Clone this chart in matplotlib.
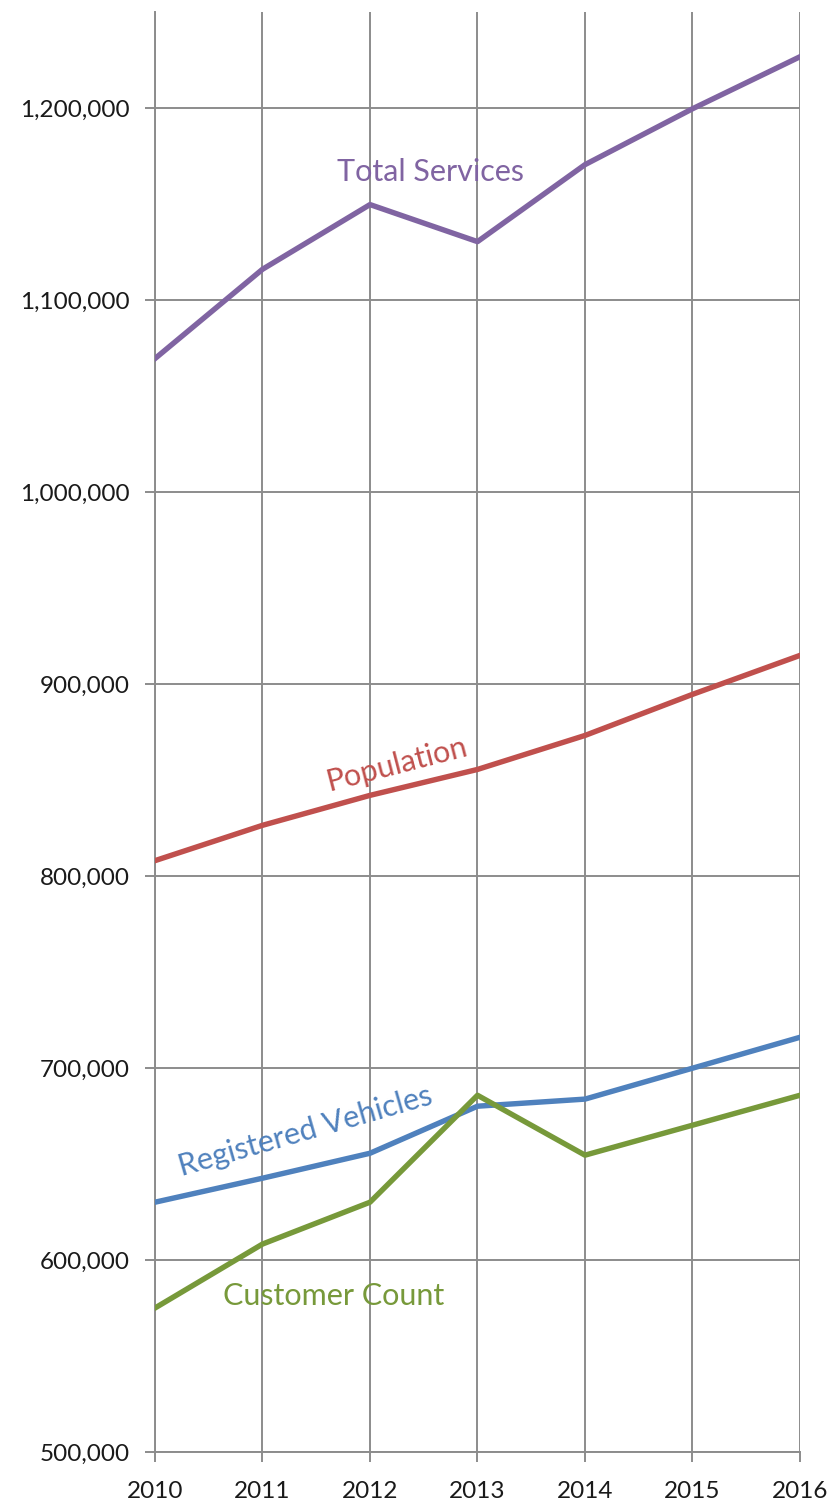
import matplotlib.pyplot as plt
import numpy as np

plt.rcParams['font.family'] = ['Lato', 'DejaVu Sans']

# ---- data ----
years = [2010, 2011, 2012, 2013, 2014, 2015, 2016]
total_services = [1069500, 1116000, 1149700, 1130400, 1170500, 1199600, 1226700]
population = [808000, 826400, 842000, 855500, 873200, 894600, 914900]
registered_vehicles = [630100, 642600, 655600, 680100, 683800, 699900, 716000]
customer_count = [575000, 608300, 630100, 685800, 654600, 670200, 685800]

y_ticks = [500000, 600000, 700000, 800000, 900000, 1000000, 1100000, 1200000]

PURPLE = '#8064A2'
RED = '#C0504D'
BLUE = '#4F81BD'
GREEN = '#77993A'
GRID = '#8c8c8c'

fig = plt.figure(figsize=(8.32, 15.05), dpi=100)
ax = fig.add_axes([155 / 832, 1 - 1452 / 1505, 645 / 832, 1440 / 1505])

lw = 3.9
ax.plot(years, total_services, color=PURPLE, lw=lw, solid_joinstyle='round', zorder=3)
ax.plot(years, population, color=RED, lw=lw, solid_joinstyle='round', zorder=3)
ax.plot(years, registered_vehicles, color=BLUE, lw=lw, solid_joinstyle='round', zorder=3)
ax.plot(years, customer_count, color=GREEN, lw=lw, solid_joinstyle='round', zorder=4)

ax.set_xlim(2010, 2016)
ax.set_ylim(500000, 1250000)
ax.set_xticks(years)
ax.set_yticks(y_ticks)
ax.set_yticklabels([f'{v:,}' for v in y_ticks])

ax.grid(True, color=GRID, lw=1.4, zorder=1)
ax.set_axisbelow(True)
for side in ['top', 'right']:
    ax.spines[side].set_visible(False)
for side in ['left', 'bottom']:
    ax.spines[side].set_color(GRID)
    ax.spines[side].set_linewidth(1.4)
ax.tick_params(axis='both', colors=GRID, length=7, width=1.4, labelsize=17.5,
               labelcolor='#1a1a1a')
ax.tick_params(axis='y', pad=11)
ax.tick_params(axis='x', pad=14)

# series names written along the lines
ax.text(2012.56, 1166500, 'Total Services', color=PURPLE, fontsize=22,
        ha='center', va='center')
ax.text(2012.25, 858000, 'Population', color=RED, fontsize=22,
        ha='center', va='center', rotation=14.5)
ax.text(2011.4, 667000, 'Registered Vehicles', color=BLUE, fontsize=22,
        ha='center', va='center', rotation=16)
ax.text(2011.66, 581300, 'Customer Count', color=GREEN, fontsize=22,
        ha='center', va='center')

fig.savefig('out.png', dpi=100)
